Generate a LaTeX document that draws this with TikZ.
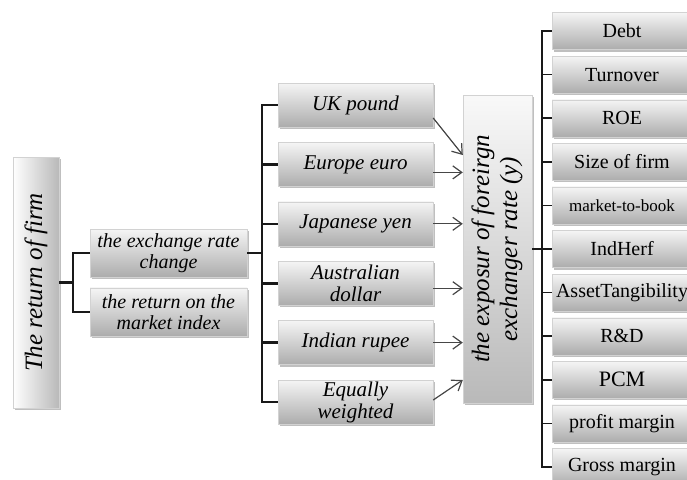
\documentclass[tikz,border=0pt]{standalone}
\usepackage{fontspec}
\setmainfont{Liberation Serif}
\usepackage{tikz}
\usetikzlibrary{arrows.meta,positioning,calc,shadows}

\begin{document}
\begin{tikzpicture}[x=1pt, y=-1pt, >={Straight Barb[length=9pt,width=13pt]}, semithick]
	\tikzstyle{box}=[top color=gray!8, bottom color=gray!65, draw=gray!35, thin, drop shadow={shadow xshift=1.5pt, shadow yshift=-2pt, opacity=0.5}, inner sep=1pt, align=center, text=black]
	\tikzstyle{xbox}=[box, minimum width=157pt, minimum height=48pt, font=\fontsize{20}{21}\selectfont\itshape]
	\tikzstyle{cbox}=[box, minimum width=155pt, minimum height=44pt, font=\fontsize{21}{22}\selectfont\itshape]
	\tikzstyle{vbox}=[box, minimum width=140pt, minimum height=37pt, font=\fontsize{20}{22}\selectfont]
	\tikzstyle{bar}=[line width=2.6pt, black!90]
	\tikzstyle{thinbar}=[line width=1.7pt, black!90]
	\tikzstyle{arw}=[->, line width=1.2pt, gray!55!black]

	\useasboundingbox (0,0) rectangle (687,479);
	\clip (0,0) rectangle (687,479);

	% firm and the two factors
	\node[box, left color=white, right color=gray!55, minimum width=46pt, minimum height=251pt] (firm) at (36,282.5) {\rotatebox{90}{\fontsize{25}{28}\selectfont\itshape The return of firm}};
	\node[xbox] (xrate) at (168.5,253) {the exchange rate\\change};
	\node[xbox] (mkt)   [below=10.5pt of xrate] {the return on the\\market index};

	% currencies
	\node[cbox] (uk)  at (355.5,105) {UK pound};
	\node[cbox] (eur) [below=15pt of uk]  {Europe euro};
	\node[cbox] (jpy) [below=15pt of eur] {Japanese yen};
	\node[cbox] (aud) [below=15pt of jpy] {Australian\\dollar};
	\node[cbox] (inr) [below=15pt of aud] {Indian rupee};
	\node[cbox] (ew)  [below=15pt of inr] {Equally\\weighted};

	% exposure
	\node[box, top color=gray!5, bottom color=gray!55, minimum width=69pt, minimum height=308pt] (xpo) at (497.5,249) {\rotatebox{90}{\fontsize{25}{28}\selectfont\itshape\begin{tabular}{@{}c@{}}the exposur of foreirgn\\exchanger rate (y)\end{tabular}}};

	% firm variables
	\node[vbox] (v1)  at (622,31) {Debt};
	\node[vbox] (v2)  [below=6.2pt of v1]  {Turnover};
	\node[vbox] (v3)  [below=6.2pt of v2]  {ROE};
	\node[vbox] (v4)  [below=6.2pt of v3]  {Size of firm};
	\node[vbox, font=\fontsize{17}{19}\selectfont] (v5) [below=6.2pt of v4] {market-to-book};
	\node[vbox] (v6)  [below=6.2pt of v5]  {IndHerf};
	\node[vbox] (v7)  [below=6.2pt of v6]  {AssetTangibility};
	\node[vbox] (v8)  [below=6.2pt of v7]  {R\&D};
	\node[vbox, font=\fontsize{22}{24}\selectfont] (v9) [below=6.2pt of v8] {PCM};
	\node[vbox] (v10) [below=6.2pt of v9]  {profit margin};
	\node[vbox] (v11) [below=6.2pt of v10] {Gross margin};

	% brackets
	\coordinate (j1) at (73,282.5);
	\coordinate (j2) at (262,253);
	\coordinate (j3) at (542,249);
	\draw[bar] (firm.east) -- (j1);
	\draw[bar] (xrate.west) -| (j1) |- (mkt.west);
	\draw[bar] (xrate.east) -- (j2);
	\draw[bar] (uk.west) -| (j2) |- (ew.west);
	\foreach \c in {eur,jpy,aud,inr}
		\draw[bar] (\c.west) -- (\c.west -| j2);
	\draw[thinbar] (xpo.east) -- (j3);
	\draw[thinbar] (v1.west) -| (j3) |- (v11.west);
	\foreach \i in {2,...,10}
		\draw[thinbar] (v\i.west) -- (v\i.west -| j3);

	% arrows into the exposure
	\draw[arw] ($(uk.east)+(0,13)$) -- ($(xpo.west)+(0,-94)$);
	\draw[arw] ($(eur.east)+(0,8)$) -- ($(eur.east -| xpo.west)+(0,8)$);
	\draw[arw] (jpy.east) -- (jpy.east -| xpo.west);
	\draw[arw] ($(aud.east)+(0,5)$) -- ($(aud.east -| xpo.west)+(0,5)$);
	\draw[arw] (inr.east) -- (inr.east -| xpo.west);
	\draw[arw] ($(ew.east)+(0,-2)$) -- ($(xpo.west)+(0,131)$);
\end{tikzpicture}
\end{document}
